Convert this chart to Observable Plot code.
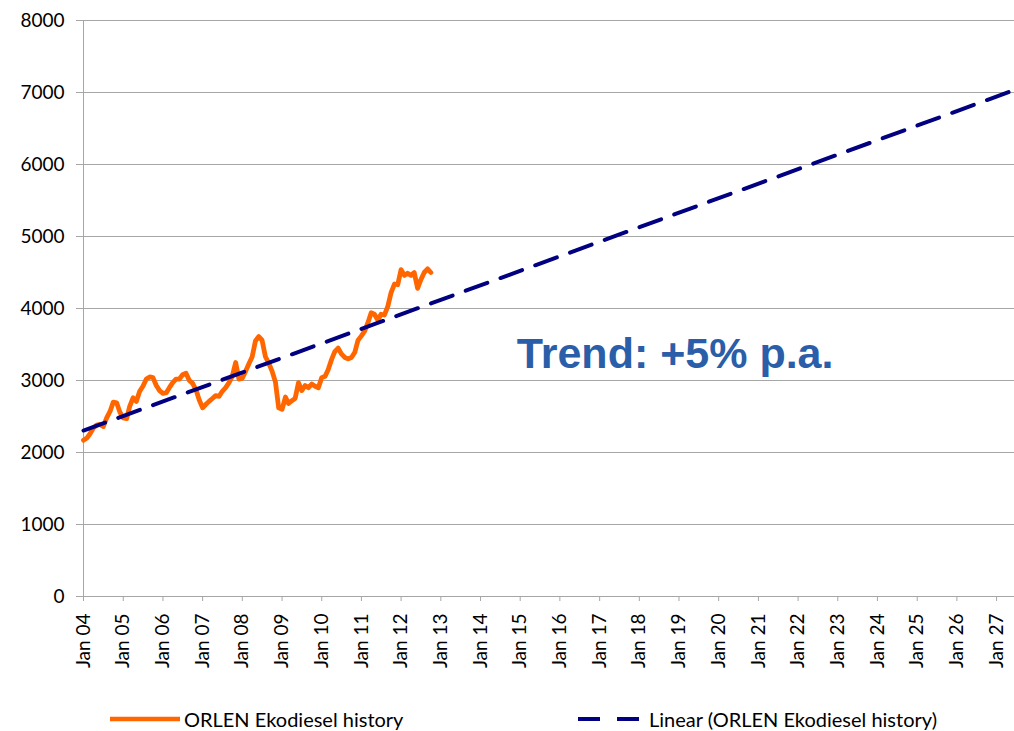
<!DOCTYPE html>
<html>
<head>
<meta charset="utf-8">
<script src="https://cdn.jsdelivr.net/npm/d3@7"></script>
<script src="https://cdn.jsdelivr.net/npm/@observablehq/plot@0.6"></script>
<style>
  body { margin: 0; background: #fff; font-family: Lato, sans-serif; }
  #wrap { position: relative; width: 1014px; height: 731px; overflow: hidden; }
  #chart { position: absolute; left: 0; top: 0; }
  .leg { position: absolute; top: 707px; height: 24px; line-height: 24px; font-size: 20px; color: #000; display: flex; align-items: center; white-space: nowrap; }
  #leg1 svg { margin-right: 4px; }
  #leg2 svg { margin-right: 9px; }
</style>
</head>
<body>
<div id="wrap">
  <div id="chart"></div>
  <div class="leg" id="leg1" style="left:110px"></div>
  <div class="leg" id="leg2" style="left:578px"></div>
</div>
<script>
// ---- data ----
const historyName = "ORLEN Ekodiesel history";
const trendName = "Linear (ORLEN Ekodiesel history)";
const historyStart = [2004, 0]; // Jan 2004, monthly
const historyValues = [
  // 2004
  2170, 2200, 2260, 2340, 2380, 2390, 2360, 2480, 2570, 2700, 2690, 2560,
  // 2005
  2480, 2470, 2640, 2760, 2710, 2850, 2920, 3020, 3050, 3040, 2930, 2860,
  // 2006
  2820, 2830, 2900, 2970, 3020, 3020, 3080, 3100, 3000, 2960, 2870, 2730,
  // 2007
  2620, 2670, 2710, 2750, 2790, 2780, 2850, 2900, 2970, 3060, 3250, 3020,
  // 2008
  3030, 3130, 3230, 3330, 3550, 3610, 3560, 3330, 3240, 3130, 2980, 2620,
  // 2009
  2600, 2770, 2680, 2720, 2750, 2970, 2860, 2930, 2900, 2950, 2920, 2900,
  // 2010
  3040, 3060, 3150, 3290, 3400, 3450, 3370, 3320, 3300, 3320, 3390, 3560,
  // 2011
  3620, 3690, 3800, 3940, 3920, 3840, 3920, 3910, 4030, 4220, 4340, 4330,
  // 2012
  4540, 4460, 4490, 4460, 4500, 4280, 4400, 4500, 4550, 4500
];
const trendDates = ["2004-01-01", "2027-06-15"];
const trendValues = [2305, 7035];
const yTicks = [0, 1000, 2000, 3000, 4000, 5000, 6000, 7000, 8000];
const xTickYears = d3.range(2004, 2028);
const xDomain = ["2004-01-01", "2027-06-15"];
const annotationText = ["Trend: +5% p.a."];
const annotationDate = ["2014-12-01"];
const annotationValue = [3370];

// ---- build tables ----
const history = historyValues.map((v, i) => ({
  date: new Date(Date.UTC(historyStart[0], historyStart[1] + i, 1)),
  value: v
}));
const trend = trendDates.map((d, i) => ({ date: new Date(d), value: trendValues[i] }));
const xTicks = xTickYears.map(y => new Date(Date.UTC(y, 0, 1)));
const annotation = annotationText.map((t, i) => ({ label: t, date: new Date(annotationDate[i]), value: annotationValue[i] }));
const gray = "#a6a6a6";

const chart = Plot.plot({
  width: 1014,
  height: 700,
  marginLeft: 83,
  marginRight: 0,
  marginTop: 20,
  marginBottom: 104,
  style: { fontFamily: "Lato, sans-serif", fontSize: "19px", color: "#000", background: "#fff", overflow: "visible" },
  x: { type: "utc", domain: xDomain.map(d => new Date(d)) },
  y: { domain: [0, 8000] },
  marks: [
    Plot.ruleY(yTicks, { stroke: gray, strokeWidth: 1 }),
    Plot.ruleX([new Date(xDomain[0])], { stroke: gray, strokeWidth: 1 }),
    Plot.axisY({ ticks: yTicks, tickSize: 7, tickPadding: 12, tickFormat: d => String(d), stroke: gray, fill: "#000", label: null }),
    Plot.axisX({ ticks: xTicks, tickFormat: d3.utcFormat("%b %y"), tickRotate: -90, tickSize: 5, tickPadding: 12, stroke: gray, fill: "#000", label: null }),
    Plot.line(history, { x: "date", y: "value", stroke: "#ff6600", strokeWidth: 4.8, strokeLinejoin: "round", strokeLinecap: "round" }),
    Plot.line(trend, { x: "date", y: "value", stroke: "#000080", strokeWidth: 4, strokeDasharray: "23,14" }),
    Plot.text(annotation, { x: "date", y: "value", text: "label", textAnchor: "start", fontSize: 43, fontWeight: "bold", fontFamily: "'Liberation Sans', Arial, sans-serif", fill: "#2a5ea8" })
  ]
});
document.getElementById("chart").appendChild(chart);

// ---- legend ----
document.getElementById("leg1").innerHTML =
  `<svg width="70" height="10"><line x1="0" x2="70" y1="5" y2="5" stroke="#ff6600" stroke-width="4.5"/></svg><span>${historyName}</span>`;
document.getElementById("leg2").innerHTML =
  `<svg width="62" height="10"><line x1="0" x2="62" y1="5" y2="5" stroke="#000080" stroke-width="4" stroke-dasharray="22,17"/></svg><span>${trendName}</span>`;
</script>
</body>
</html>
